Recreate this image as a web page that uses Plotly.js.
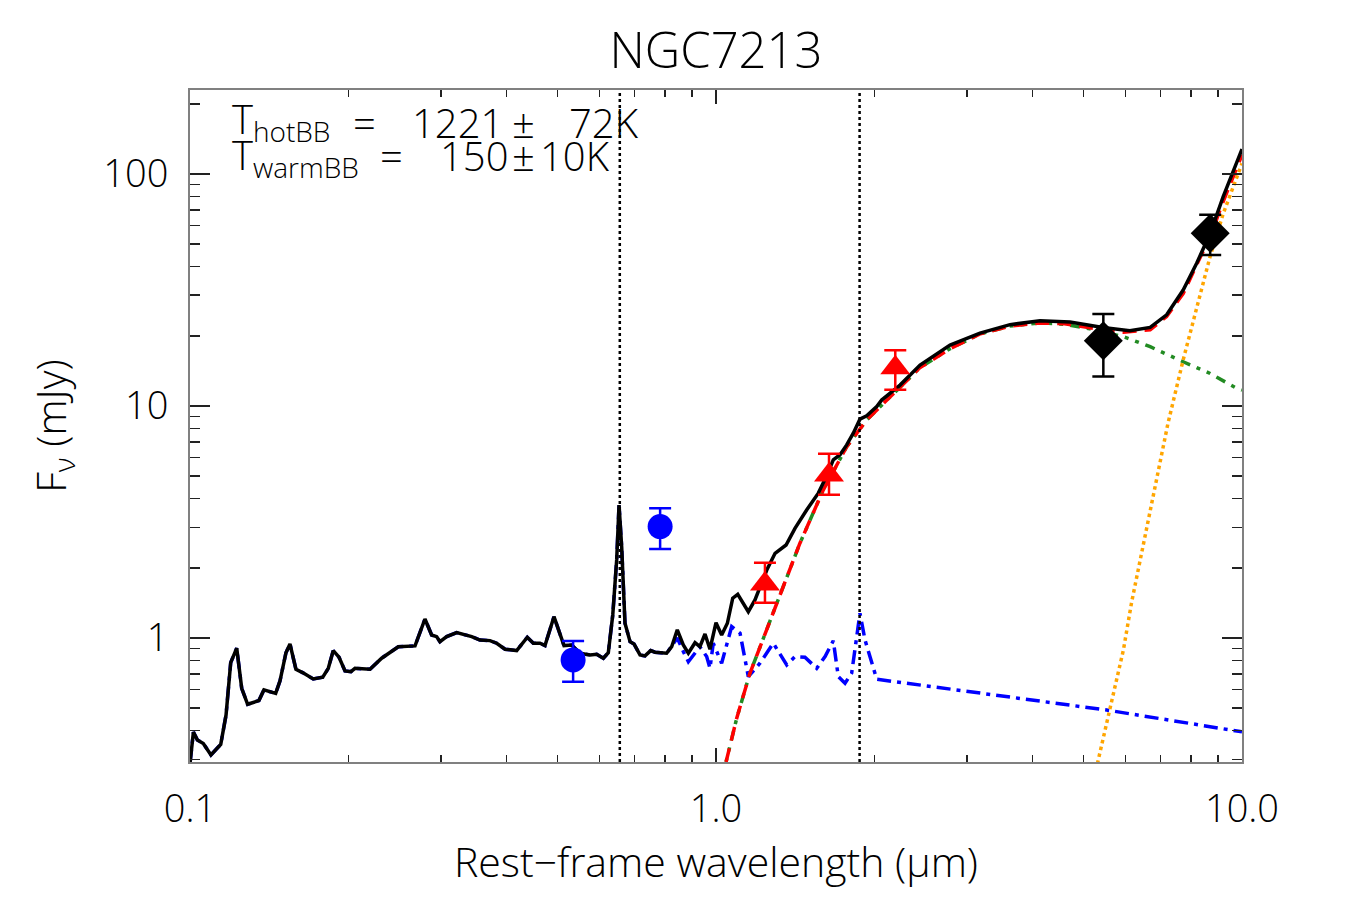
<!DOCTYPE html>
<html>
<head>
<meta charset="utf-8">
<script src="https://cdn.plot.ly/plotly-3.0.1.min.js"></script>
<style>html,body{margin:0;padding:0;background:#fff;}#chart{width:1350px;height:900px;}</style>
</head>
<body>
<div id="chart"></div>
<script>
// Optical part of the spectrum (shared by total model and galaxy template)
var optWave = [0.1, 0.1015, 0.1033, 0.106, 0.1096, 0.1144, 0.1171, 0.1195, 0.1227, 0.1254,
  0.1287, 0.1352, 0.1382, 0.1455, 0.1483, 0.1522, 0.1549, 0.159, 0.1637, 0.1715,
  0.1788, 0.1832, 0.1872, 0.192, 0.1971, 0.2023, 0.2059, 0.2199, 0.2314, 0.2489,
  0.2678, 0.2797, 0.288, 0.2944, 0.2987, 0.3076, 0.3214, 0.3432, 0.3558, 0.3718,
  0.3829, 0.3972, 0.4179, 0.4378, 0.4495, 0.4628, 0.473, 0.492, 0.5141, 0.5317,
  0.5514, 0.5761, 0.5932, 0.6107, 0.6241, 0.6364, 0.6474, 0.6541, 0.6617, 0.6714,
  0.6865, 0.6984, 0.7171, 0.7328, 0.7513, 0.7656, 0.8056];
var optFlux = [0.288, 0.393, 0.363, 0.351, 0.313, 0.348, 0.466, 0.783, 0.903, 0.607,
  0.518, 0.537, 0.597, 0.577, 0.653, 0.864, 0.942, 0.733, 0.709, 0.666,
  0.677, 0.74, 0.882, 0.826, 0.721, 0.716, 0.74, 0.733, 0.818, 0.917,
  0.924, 1.207, 1.03, 1.013, 0.964, 1.013, 1.054, 1.013, 0.98, 0.974,
  0.949, 0.894, 0.882, 1.007, 0.949, 0.949, 0.927, 1.235, 0.927, 0.933,
  0.859, 0.845, 0.851, 0.818, 0.864, 1.256, 2.169, 3.74, 2.475, 1.157,
  0.964, 0.942, 0.845, 0.837, 0.882, 0.868, 0.859];

// Total model beyond 0.8 micron
var totWave = [0.8236, 0.8441, 0.8666, 0.886, 0.9122, 0.932, 0.953, 0.974, 1.0, 1.025,
  1.051, 1.076, 1.1, 1.152, 1.186, 1.249, 1.295, 1.359, 1.413, 1.487,
  1.565, 1.623, 1.671, 1.721, 1.772, 1.824, 1.878, 1.934, 2.021, 2.065,
  2.238, 2.443, 2.786, 3.176, 3.622, 4.13, 4.71, 5.44, 6.12, 6.69,
  7.19, 7.73, 8.2, 8.7, 9.21, 10.0];
var totFlux = [0.917, 1.083, 0.933, 0.859, 0.954, 0.917, 1.04, 0.894, 1.164, 1.03,
  1.157, 1.483, 1.543, 1.298, 1.458, 1.963, 2.317, 2.516, 2.969, 3.56,
  4.21, 4.99, 5.86, 6.16, 6.79, 7.63, 8.77, 9.06, 9.95, 10.6,
  12.3, 15.0, 18.3, 20.6, 22.4, 23.3, 23.0, 21.8, 21.1, 21.8,
  24.7, 31.6, 41.2, 55.5, 79.8, 128];

// Galaxy template beyond 0.8 micron
var tmplWave = [0.8236, 0.8441, 0.867, 0.886, 0.932, 0.960, 0.974, 0.988, 1.025, 1.071,
  1.111, 1.152, 1.212, 1.285, 1.363, 1.413, 1.476, 1.554, 1.612, 1.671,
  1.708, 1.759, 1.811, 1.878, 1.92, 2.021, 5.53, 10.0];
var tmplFlux = [0.917, 1.0, 0.873, 0.790, 0.917, 0.831, 0.740, 0.949, 0.778, 1.119,
  1.048, 0.681, 0.778, 0.949, 0.765, 0.831, 0.826, 0.740, 0.831, 0.973,
  0.681, 0.638, 0.705, 1.278, 0.98, 0.664, 0.489, 0.394];

// Hot blackbody (1221 K)
var hotWave = [1.045, 1.095, 1.160, 1.304, 1.444, 1.599, 1.772, 1.934, 2.110, 2.44,
  2.78, 3.17, 3.62, 4.13, 4.6, 5.14, 5.95, 6.69, 7.73, 8.70, 9.78, 10.0];
var hotFlux = [0.292, 0.451, 0.704, 1.41, 2.56, 4.34, 6.67, 8.70, 10.6, 14.6,
  17.6, 20.4, 22.1, 22.8, 22.5, 21.5, 19.9, 18.0, 15.5, 13.8, 11.9, 11.7];

// Warm blackbody (150 K)
var warmWave = [5.31, 5.61, 5.95, 6.17, 6.69, 7.23, 7.73, 8.20, 8.70, 9.21, 9.90, 10.0];
var warmFlux = [0.287, 0.489, 0.888, 1.43, 3.49, 8.39, 15.8, 26.8, 44.2, 67.4, 105, 111];

// Sum of blackbodies
var bbWave = [1.045, 1.095, 1.160, 1.304, 1.444, 1.599, 1.772, 1.934, 2.110, 2.44,
  2.78, 3.17, 3.62, 4.13, 4.6, 5.14, 5.95, 6.69, 7.19, 7.73, 8.20, 8.70, 9.21, 9.90, 10.0];
var bbFlux = [0.292, 0.451, 0.704, 1.41, 2.56, 4.34, 6.67, 8.70, 10.6, 14.6,
  17.6, 20.4, 22.1, 22.8, 22.6, 21.7, 20.8, 21.3, 24.3, 30.5, 40.6, 53.7, 76.0, 114, 121];

// Photometry
var optPhotWave = [0.535, 0.783];
var optPhotFlux = [0.804, 3.02];
var optPhotErrHi = [0.167, 0.60];
var optPhotErrLo = [0.156, 0.60];

var nirPhotWave = [1.239, 1.640, 2.192];
var nirPhotFlux = [1.71, 5.04, 14.6];
var nirPhotErrHi = [0.40, 1.18, 2.8];
var nirPhotErrLo = [0.29, 0.90, 2.85];

var midPhotWave = [5.45, 8.70];
var midPhotFlux = [19.1, 55.5];
var midPhotErrHi = [5.8, 11.2];
var midPhotErrLo = [5.7, 10.8];

// Emission line markers (Halpha, Paalpha)
var lineWave = [0.6563, 1.875];

// Axis ticks
var xTickVals = [0.1, 1, 10];
var xTickText = ['0.1', '1.0', '10.0'];
var xMinorVals = [0.2,0.3,0.4,0.5,0.6,0.7,0.8,0.9,2,3,4,5,6,7,8,9];
var yTickVals = [1, 10, 100];
var yTickText = ['1', '10', '100'];
var yMinorVals = [0.3,0.4,0.5,0.6,0.7,0.8,0.9,2,3,4,5,6,7,8,9,20,30,40,50,60,70,80,90,200];

// Fit result text pieces
var fitLine1 = ['T<sub>hotBB</sub>', '=', '1221', '\u00b1', '72K'];
var fitLine2 = ['T<sub>warmBB</sub>', '=', '150', '\u00b1', '10K'];

var FONT = 'Open Sans, Lato, DejaVu Sans, sans-serif';
var W = 300;

var traces = [
  {x: optWave.concat(tmplWave), y: optFlux.concat(tmplFlux), mode: 'lines',
   line: {color: '#0000FF', width: 3.5, dash: '14px,6px,4px,6px'}, hoverinfo: 'skip'},
  {x: hotWave, y: hotFlux, mode: 'lines',
   line: {color: '#228B22', width: 3.5, dash: '4px,7px,4px,7px,10px,7px'}, hoverinfo: 'skip'},
  {x: warmWave, y: warmFlux, mode: 'lines',
   line: {color: '#FFA500', width: 3.5, dash: 'dot'}, hoverinfo: 'skip'},
  {x: bbWave, y: bbFlux, mode: 'lines',
   line: {color: '#FF0000', width: 3.5, dash: '14px,8px'}, hoverinfo: 'skip'},
  {x: optWave.concat(totWave), y: optFlux.concat(totFlux), mode: 'lines',
   line: {color: '#000000', width: 3.5}, hoverinfo: 'skip'},
  {x: optPhotWave, y: optPhotFlux, mode: 'markers',
   marker: {symbol: 'circle', size: 25, color: '#0000FF'},
   error_y: {type: 'data', array: optPhotErrHi, arrayminus: optPhotErrLo, color: '#0000FF', thickness: 2.5, width: 11}},
  {x: nirPhotWave, y: nirPhotFlux, mode: 'markers',
   marker: {symbol: 'triangle-up', size: 26, color: '#FF0000'},
   error_y: {type: 'data', array: nirPhotErrHi, arrayminus: nirPhotErrLo, color: '#FF0000', thickness: 2.5, width: 11}},
  {x: midPhotWave, y: midPhotFlux, mode: 'markers',
   marker: {symbol: 'diamond', size: 30, color: '#000000'},
   error_y: {type: 'data', array: midPhotErrHi, arrayminus: midPhotErrLo, color: '#000000', thickness: 2.5, width: 11}}
];

var shapes = lineWave.map(function (w) {
  return {type: 'line', xref: 'x', yref: 'paper', x0: w, x1: w, y0: 0, y1: 1,
          line: {color: '#000', width: 2.5, dash: 'dot'}};
});

// Text piece placement (pixel x of each piece, converted to paper units)
var PL = 190, PW = 1052, PT = 90, PH = 672;
function px2paperX(p) { return (p - PL) / PW; }
function px2paperY(p) { return (PT + PH - p) / PH; }
var line1X = [230, 351, 410, 510, 567];
var line2X = [230, 378, 438, 510, 538];
var annotations = [];
fitLine1.forEach(function (t, i) {
  annotations.push({xref: 'paper', yref: 'paper', x: px2paperX(line1X[i]), y: px2paperY(i === 0 ? 121 : 122),
    xanchor: 'left', yanchor: 'middle', showarrow: false, text: t,
    font: {family: FONT, size: 40, color: '#000', weight: W}});
});
fitLine2.forEach(function (t, i) {
  annotations.push({xref: 'paper', yref: 'paper', x: px2paperX(line2X[i]), y: px2paperY(i === 0 ? 156 : 155),
    xanchor: 'left', yanchor: 'middle', showarrow: false, text: t,
    font: {family: FONT, size: 40, color: '#000', weight: W}});
});

var axisCommon = {
  type: 'log', showgrid: false, zeroline: false, showline: true, linecolor: '#808080', linewidth: 2,
  mirror: 'ticks', ticks: 'inside', tickcolor: '#222', tickwidth: 1.5,
  tickfont: {family: FONT, size: 38, color: '#000', weight: W}
};

var layout = {
  width: 1350, height: 900,
  margin: {l: PL, r: 1350 - PL - PW, t: PT, b: 900 - PT - PH},
  paper_bgcolor: '#fff', plot_bgcolor: '#fff',
  showlegend: false,
  title: {text: 'NGC7213', x: 0.5, xref: 'paper', y: 0.944, yref: 'container', yanchor: 'middle',
          font: {family: FONT, size: 49, color: '#000', weight: W}},
  xaxis: Object.assign({}, axisCommon, {
    range: [-1, 1], tickvals: xTickVals, ticktext: xTickText, ticklen: 14,
    ticklabelstandoff: 12,
    minor: {tickvals: xMinorVals, ticks: 'inside', ticklen: 7, tickcolor: '#222', tickwidth: 1.5},
    title: {text: 'Rest\u2212frame wavelength (\u03bcm)', standoff: 16, font: {family: FONT, size: 41, color: '#000', weight: W}}
  }),
  yaxis: Object.assign({}, axisCommon, {
    range: [Math.log10(0.292), Math.log10(230)], tickvals: yTickVals, ticktext: yTickText, ticklen: 20,
    ticklabelstandoff: 12,
    minor: {tickvals: yMinorVals, ticks: 'inside', ticklen: 10, tickcolor: '#222', tickwidth: 1.5},
    title: {text: 'F<sub>\u03bd</sub> (mJy)', standoff: 24, font: {family: FONT, size: 41, color: '#000', weight: W}}
  }),
  shapes: shapes,
  annotations: annotations
};

Plotly.newPlot('chart', traces, layout, {displayModeBar: false, staticPlot: true});
</script>
</body>
</html>
